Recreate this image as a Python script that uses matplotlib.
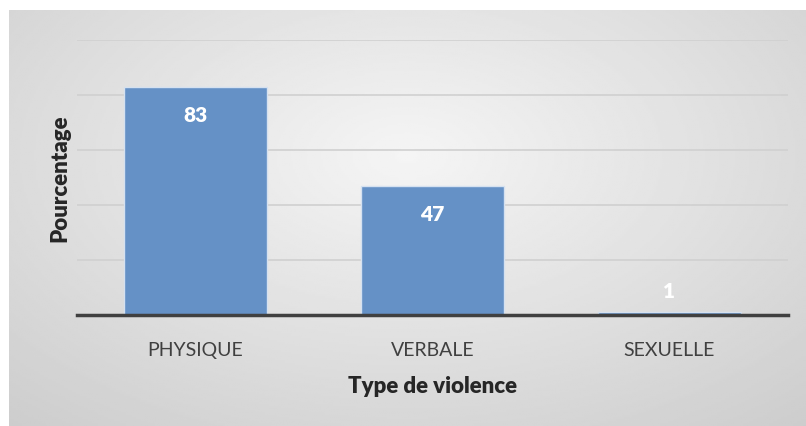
import numpy as np
import matplotlib
matplotlib.use("Agg")
import matplotlib.pyplot as plt

# Données
categories = ["PHYSIQUE", "VERBALE", "SEXUELLE"]
pourcentages = [83, 47, 1]

plt.rcParams['font.family'] = ['Lato', 'DejaVu Sans']

W, H = 806, 427
fig = plt.figure(figsize=(W / 100, H / 100), dpi=100)
fig.patch.set_facecolor("white")

# Fond dégradé gris (zone du graphique)
bg = fig.add_axes([9 / W, 0, 1 - 9 / W, (H - 11) / H])
yy, xx = np.mgrid[-1:1:200j, -1:1:400j]
r = np.sqrt((xx * 0.9) ** 2 + ((yy + 0.3) * 0.8) ** 2)
bg.imshow(0.96 - 0.16 * np.clip(r, 0, 1.4) / 1.4, cmap="gray", vmin=0, vmax=1,
          aspect="auto", extent=[0, 1, 0, 1])
bg.set_axis_off()

ax = fig.add_axes([77 / W, (H - 316) / H, (788 - 77) / W, 275 / H])
ax.patch.set_alpha(0)

x = np.arange(len(categories))
bars = ax.bar(x, pourcentages, width=0.6, color="#6591c6",
              edgecolor="#d5e1f0", linewidth=1.0, zorder=3)

for b, v in zip(bars, pourcentages):
    # étiquette dans la barre, au-dessus si la barre est trop courte
    dy = -20 if v > 10 else 16
    ax.annotate(str(v), (b.get_x() + b.get_width() / 2, v), xytext=(0, dy),
                textcoords="offset points", ha="center", va="center",
                color="white", fontsize=15, fontweight="heavy", zorder=4)

ax.set_ylim(0, 100)
ax.set_xlim(-0.5, 2.5)
ax.set_yticks([20, 40, 60, 80, 100])
ax.yaxis.grid(True, color="#d0d0d0", linewidth=1.2, zorder=0)
ax.tick_params(axis="y", length=0, labelleft=False)
ax.tick_params(axis="x", length=0, pad=19, labelsize=14, labelcolor="#404040")
ax.set_xticks(x)
ax.set_xticklabels(categories)

for s in ["top", "right", "left"]:
    ax.spines[s].set_visible(False)
ax.spines["bottom"].set_color("#404040")
ax.spines["bottom"].set_linewidth(2.5)
ax.spines["bottom"].set_zorder(5)

ax.set_xlabel("Type de violence", fontsize=16, fontweight="heavy", color="#262626", labelpad=12)
ax.set_ylabel("Pourcentage", fontsize=16, fontweight="heavy", color="#262626", labelpad=5)

fig.savefig("out.png", dpi=100)
